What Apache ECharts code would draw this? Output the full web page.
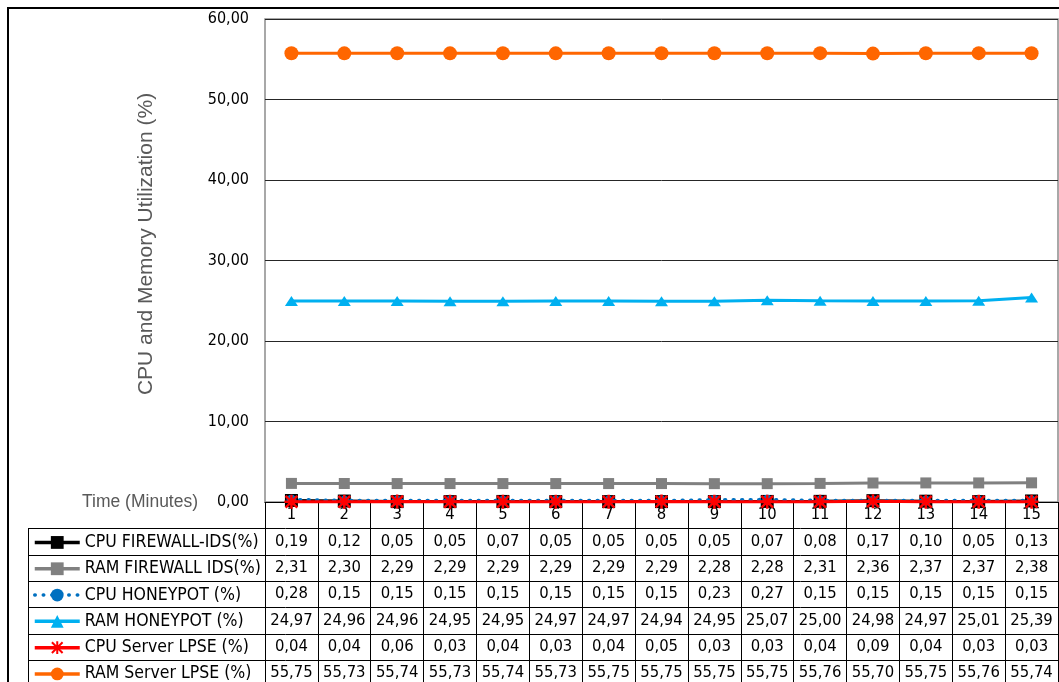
<!DOCTYPE html>
<html>
<head>
<meta charset="utf-8">
<script src="https://cdn.jsdelivr.net/npm/echarts@6/dist/echarts.min.js"></script>
<style>
  html, body { margin: 0; padding: 0; background: #fff; }
  #chart { width: 1059px; height: 682px; }
</style>
</head>
<body>
<div id="chart"></div>
<script>
// Minutes of the measurement run
const minutes = ['1','2','3','4','5','6','7','8','9','10','11','12','13','14','15'];

// Utilisation per minute (%)
const cpuFirewall = [0.19,0.12,0.05,0.05,0.07,0.05,0.05,0.05,0.05,0.07,0.08,0.17,0.10,0.05,0.13];
const ramFirewall = [2.31,2.30,2.29,2.29,2.29,2.29,2.29,2.29,2.28,2.28,2.31,2.36,2.37,2.37,2.38];
const cpuHoneypot = [0.28,0.15,0.15,0.15,0.15,0.15,0.15,0.15,0.23,0.27,0.15,0.15,0.15,0.15,0.15];
const ramHoneypot = [24.97,24.96,24.96,24.95,24.95,24.97,24.97,24.94,24.95,25.07,25.00,24.98,24.97,25.01,25.39];
const cpuLpse = [0.04,0.04,0.06,0.03,0.04,0.03,0.04,0.05,0.03,0.03,0.04,0.09,0.04,0.03,0.03];
const ramLpse = [55.75,55.73,55.74,55.73,55.74,55.73,55.75,55.75,55.75,55.75,55.76,55.70,55.75,55.76,55.74];

const seriesNames = [
  'CPU FIREWALL-IDS(%)',
  'RAM FIREWALL IDS(%)',
  'CPU HONEYPOT (%)',
  'RAM HONEYPOT (%)',
  'CPU Server LPSE (%)',
  'RAM Server LPSE (%)'
];
const seriesValues = [cpuFirewall, ramFirewall, cpuHoneypot, ramHoneypot, cpuLpse, ramLpse];

const FONT = 'DejaVu Sans Condensed';
const TITLE_FONT = 'Liberation Sans';
const ROW_H = 26.3;          // height of one data-table row
const AXIS_Y = 502;          // pixel row of the 0 line
const TABLE_LEFT = 28;
const PLOT_RIGHT = 1058;

const fmt = v => v.toFixed(2).replace('.', ',');

// asterisk marker for the CPU Server LPSE series
const starPath = 'path://M1,1L11,11M11,1L1,11M6,0L6,12M0,6L12,6';

const styles = [
  { color: '#000000', symbol: 'rect', symbolSize: 13, line: { width: 3 } },
  { color: '#808080', symbol: 'rect', symbolSize: 11, line: { width: 3 } },
  { color: '#0070C0', symbol: 'circle', symbolSize: 10, line: { width: 4, type: [0.5, 8], cap: 'round' } },
  { color: '#00B0F0', symbol: 'triangle', symbolSize: [13, 10], line: { width: 3 } },
  { color: '#FF0000', symbol: starPath, symbolSize: 14, line: { width: 3 }, stroke: true },
  { color: '#FF6600', symbol: 'circle', symbolSize: 14, line: { width: 3 } }
];

const series = seriesNames.map((name, i) => {
  const s = styles[i];
  return {
    name: name,
    type: 'line',
    data: seriesValues[i],
    symbol: s.symbol,
    symbolSize: s.symbolSize,
    showAllSymbol: true,
    clip: false,
    z: 2 + i,
    lineStyle: Object.assign({ color: s.color }, s.line),
    itemStyle: s.stroke
      ? { color: 'none', borderColor: s.color, borderWidth: 2.5 }
      : { color: s.color, borderWidth: 0 },
    emphasis: { disabled: true },
    animation: false
  };
});

const chart = echarts.init(document.getElementById('chart'), null, { renderer: 'canvas' });

// horizontal rules of the data table
const tableLines = [];
for (let k = 0; k <= 6; k++) {
  const y = Math.round(AXIS_Y + ROW_H * (k + 1)) + 0.5;
  tableLines.push({
    type: 'line',
    shape: { x1: TABLE_LEFT, y1: y, x2: PLOT_RIGHT, y2: y },
    style: { stroke: '#000', lineWidth: 1 },
    silent: true
  });
}
tableLines.push({
  type: 'line',
  shape: { x1: TABLE_LEFT + 0.5, y1: AXIS_Y + ROW_H, x2: TABLE_LEFT + 0.5, y2: 690 },
  style: { stroke: '#000', lineWidth: 1 },
  silent: true
});

chart.setOption({
  animation: false,
  textStyle: { fontFamily: FONT },
  grid: {
    left: 265, top: 19, right: 1, bottom: 180,
    outerBoundsMode: 'none',
    show: true, borderColor: '#8c8c8c', borderWidth: 1.5, containLabel: false
  },
  legend: {
    orient: 'vertical',
    left: 33,
    top: AXIS_Y + ROW_H + 1,
    height: 400,
    itemWidth: 45,
    itemHeight: 16,
    itemGap: 0,
    padding: 0,
    selectedMode: false,
    data: seriesNames,
    lineStyle: { width: 3.5 },
    textStyle: { color: '#000', fontSize: 17.5, fontFamily: FONT, lineHeight: ROW_H }
  },
  xAxis: {
    type: 'category',
    data: minutes,
    boundaryGap: true,
    axisLine: { show: true, lineStyle: { color: '#000', width: 1 } },
    axisTick: { show: true, interval: 0, length: 190, lineStyle: { color: '#000', width: 1 } },
    axisLabel: {
      interval: 0,
      margin: 0,
      color: '#000',
      fontSize: 16.5,
      fontFamily: FONT,
      lineHeight: ROW_H,
      align: 'center',
      formatter: (value, idx) => [value].concat(seriesValues.map(arr => fmt(arr[idx]))).join('\n')
    },
    splitLine: { show: false }
  },
  yAxis: {
    type: 'value',
    min: 0,
    max: 60,
    interval: 10,
    axisLine: { show: false },
    axisTick: { show: false },
    axisLabel: {
      margin: 16,
      color: '#000',
      fontSize: 16,
      fontFamily: FONT,
      formatter: v => fmt(v)
    },
    splitLine: { show: true, lineStyle: { color: '#262626', width: 1 } }
  },
  series: series,
  graphic: [
    {
      type: 'rect',
      shape: { x: 8, y: 8, width: 1200, height: 800 },
      style: { fill: 'none', stroke: '#000', lineWidth: 2 },
      silent: true, z: 0
    },
    {
      type: 'text',
      x: 146, y: 244,
      rotation: Math.PI / 2,
      style: {
        text: 'CPU and Memory Utilization (%)',
        fill: '#595959',
        font: '21px "' + TITLE_FONT + '"',
        align: 'center',
        verticalAlign: 'middle'
      },
      silent: true
    },
    {
      type: 'text',
      x: 82, y: AXIS_Y,
      style: {
        text: 'Time (Minutes)',
        fill: '#595959',
        font: '17.5px "' + TITLE_FONT + '"',
        align: 'left',
        verticalAlign: 'middle'
      },
      silent: true
    }
  ].concat(tableLines)
});
</script>
</body>
</html>
